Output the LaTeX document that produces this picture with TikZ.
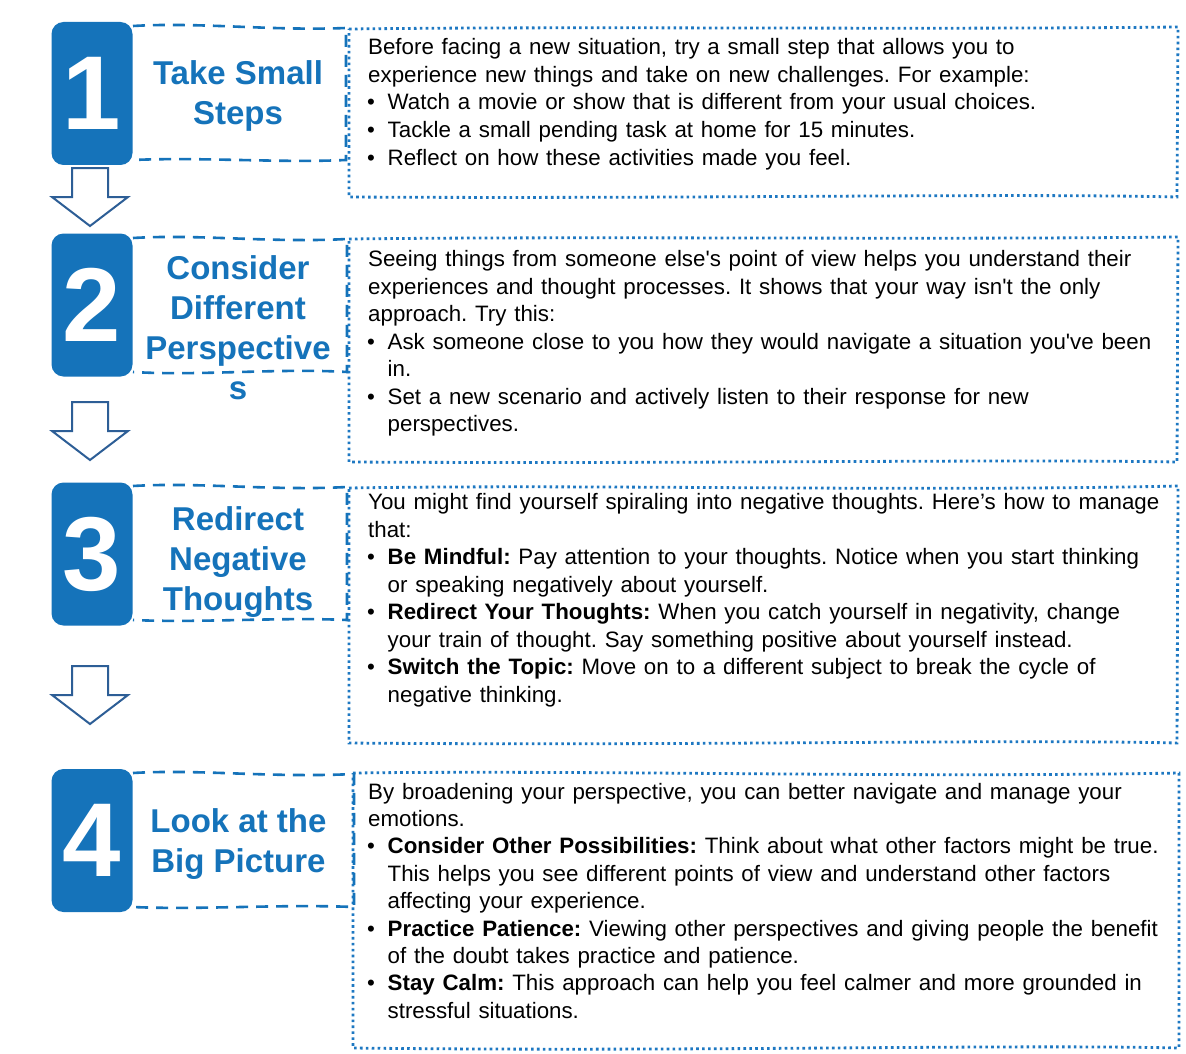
\documentclass[tikz,border=0pt]{standalone}
\usepackage{fontspec}
\setmainfont{Liberation Sans}
\definecolor{numblue}{HTML}{1573BA}
\definecolor{dotblue}{HTML}{1E78C2}
\definecolor{arrowblue}{HTML}{2D5E96}
\newcommand{\bul}{\makebox[19.5pt][l]{\hspace{-1pt}•}}
\newcommand{\ind}{\hspace*{19.5pt}}
\newcommand{\apo}{\textquotesingle}
\newcommand{\bodyfont}{\fontsize{22.3}{27.5}\selectfont\setlength{\spaceskip}{7.8pt}}
\frenchspacing
\tikzset{
  numbox/.style={fill=numblue, rounded corners=12pt, draw=none, text=white,
    font=\fontsize{105}{105}\selectfont\bfseries, inner sep=0,
    minimum width=81pt, minimum height=143pt},
  titletext/.style={text=numblue, font=\fontsize{33}{40}\selectfont\bfseries, inner sep=0, anchor=base},
  dashline/.style={draw=numblue, line width=2.6pt, dash pattern=on 12pt off 8pt},
  dotline/.style={draw=dotblue, line width=2.8pt, dash pattern=on 2.6pt off 3.3pt},
  arrowshape/.style={draw=arrowblue, line width=2pt, fill=white, line join=miter},
  bodytext/.style={font=\bodyfont, inner sep=0, anchor=base west},
}
\begin{document}
\begin{tikzpicture}[x=1pt,y=-1pt]
\useasboundingbox[fill=white] (0,0) rectangle (1186,1054);

% dotted text boxes
\draw[dotline] (349,29) .. controls (600,26) and (900,30) .. (1178,27) -- (1177,197) .. controls (1000,193) and (700,199) .. (349,197) -- cycle;
\draw[dotline] (349,239) .. controls (600,236) and (900,240) .. (1178,237) -- (1177,462) .. controls (1000,459) and (700,464) .. (349,462) -- cycle;
\draw[dotline] (349,488) .. controls (600,484) and (900,492) .. (1178,486) -- (1177,743) .. controls (1000,739) and (700,746) .. (349,743) -- cycle;
\draw[dotline] (353,773) .. controls (600,770) and (900,778) .. (1179,773) -- (1179,1048) .. controls (1000,1044) and (700,1052) .. (353,1048) -- cycle;

% dashed title boxes
\draw[dashline] (133,26) .. controls (200,22) and (270,31) .. (346,28) -- (346,160) .. controls (280,163) and (200,157) .. (133,160);
\draw[dashline] (133,238) .. controls (200,234) and (270,243) .. (347,239) -- (347,372) .. controls (280,368) and (200,376) .. (133,372);
\draw[dashline] (133,486) .. controls (200,482) and (270,491) .. (347,487) -- (347,620) .. controls (280,617) and (200,623) .. (133,620);
\draw[dashline] (133,773) .. controls (200,769) and (270,778) .. (354,774) -- (354,907) .. controls (280,904) and (200,910) .. (133,907);

% number boxes
\node[numbox] (n1) at (92,93.5) {1};
\node[numbox] (n2) at (92,305) {2};
\node[numbox] (n3) at (92,554) {3};
\node[numbox] (n4) at (92,840.5) {4};

% block arrows
\foreach \top in {168,402,666}{
  \draw[arrowshape] (72,\top) -- (108,\top) -- (108,\top+29) -- (128,\top+29) -- (90,\top+58) -- (52,\top+29) -- (72,\top+29) -- cycle;
}

% titles
\foreach \t [count=\i] in {Take Small, Steps}
  \node[titletext] (t1l\i) at (238,{85+40*(\i-1)}) {\t};
\foreach \t [count=\i] in {Consider, Different, Perspective, s}
  \node[titletext] (t2l\i) at (238,{279+40*(\i-1)}) {\t};
\foreach \t [count=\i] in {Redirect, Negative, Thoughts}
  \node[titletext] (t3l\i) at (238,{530+40*(\i-1)}) {\t};
\foreach \t [count=\i] in {Look at the, Big Picture}
  \node[titletext] (t4l\i) at (238.5,{832+40*(\i-1)}) {\t};

% body texts
\foreach \t [count=\i] in {
  {Before facing a new situation, try a small step that allows you to},
  {experience new things and take on new challenges. For example:},
  {\bul Watch a movie or show that is different from your usual choices.},
  {\bul Tackle a small pending task at home for 15 minutes.},
  {\bul Reflect on how these activities made you feel.}}
  \node[bodytext] (b1l\i) at (368,{55+27.5*(\i-1)}) {\t};

\foreach \t [count=\i] in {
  {Seeing things from someone else\apo s point of view helps you understand their},
  {experiences and thought processes. It shows that your way isn\apo t the only},
  {approach. Try this:},
  {\bul Ask someone close to you how they would navigate a situation you\apo ve been},
  {\ind in.},
  {\bul Set a new scenario and actively listen to their response for new},
  {\ind perspectives.}}
  \node[bodytext] (b2l\i) at (368,{266.5+27.5*(\i-1)}) {\t};

\foreach \t [count=\i] in {
  {You might find yourself spiraling into negative thoughts. Here’s how to manage},
  {that:},
  {\bul\textbf{Be Mindful:} Pay attention to your thoughts. Notice when you start thinking},
  {\ind or speaking negatively about yourself.},
  {\bul\textbf{Redirect Your Thoughts:} When you catch yourself in negativity, change},
  {\ind your train of thought. Say something positive about yourself instead.},
  {\bul\textbf{Switch the Topic:} Move on to a different subject to break the cycle of},
  {\ind negative thinking.}}
  \node[bodytext] (b3l\i) at (368,{509.5+27.55*(\i-1)}) {\t};

\foreach \t [count=\i] in {
  {By broadening your perspective, you can better navigate and manage your},
  {emotions.},
  {\bul\textbf{Consider Other Possibilities:} Think about what other factors might be true.},
  {\ind This helps you see different points of view and understand other factors},
  {\ind affecting your experience.},
  {\bul\textbf{Practice Patience:} Viewing other perspectives and giving people the benefit},
  {\ind of the doubt takes practice and patience.},
  {\bul\textbf{Stay Calm:} This approach can help you feel calmer and more grounded in},
  {\ind stressful situations.}}
  \node[bodytext] (b4l\i) at (368,{799+27.4*(\i-1)}) {\t};
\end{tikzpicture}
\end{document}
